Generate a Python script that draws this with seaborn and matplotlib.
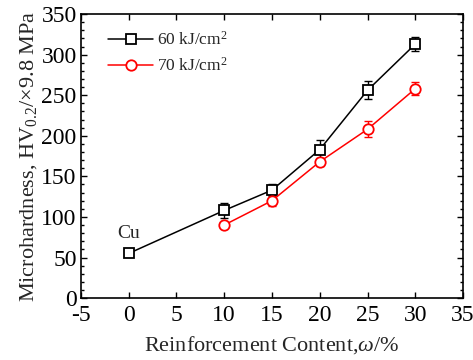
import matplotlib
matplotlib.use("Agg")
import matplotlib.pyplot as plt
import seaborn as sns
import numpy as np
import pandas as pd
from matplotlib.ticker import MultipleLocator

content_60 = [0, 10, 15, 20, 25, 30]
hv_60 = [55, 108, 133, 183, 256, 313]
err_60 = [3, 9, 7, 12, 11, 9]

content_70 = [10, 15, 20, 25, 30]
hv_70 = [90, 120, 168, 208, 258]
err_70 = [4, 7, 5, 10, 8]

labels = ["60 kJ/cm$^2$", "70 kJ/cm$^2$"]

sns.set_style("ticks")
plt.rcParams['font.family'] = ['Liberation Serif', 'DejaVu Serif']
plt.rcParams['mathtext.fontset'] = 'custom'
plt.rcParams['mathtext.rm'] = 'Liberation Serif'
plt.rcParams['mathtext.it'] = 'Liberation Serif:italic'
plt.rcParams['axes.unicode_minus'] = False

fig = plt.figure(figsize=(4.73, 3.6), dpi=100)
ax = fig.add_axes([0.171, 0.172, 0.808, 0.789])

df60 = pd.DataFrame({"x": content_60, "y": hv_60})
df70 = pd.DataFrame({"x": content_70, "y": hv_70})

sns.lineplot(data=df60, x="x", y="y", ax=ax, color="black", marker="s",
             markersize=6.5, markerfacecolor="white", markeredgecolor="black",
             markeredgewidth=1.3, linewidth=1.1, label=labels[0], zorder=3)
sns.lineplot(data=df70, x="x", y="y", ax=ax, color="red", marker="o",
             markersize=7.5, markerfacecolor="white", markeredgecolor="red",
             markeredgewidth=1.3, linewidth=1.1, label=labels[1], zorder=3)
ax.errorbar(content_60, hv_60, yerr=err_60, fmt="none", ecolor="black",
            elinewidth=1.0, capsize=3, capthick=1.0, zorder=2)
ax.errorbar(content_70, hv_70, yerr=err_70, fmt="none", ecolor="red",
            elinewidth=1.0, capsize=3, capthick=1.0, zorder=2)

ax.text(0, 69, "Cu", ha="center", va="bottom", fontsize=14)

ax.set_xlim(-5, 35)
ax.set_ylim(0, 350)
ax.xaxis.set_major_locator(MultipleLocator(5))
ax.yaxis.set_major_locator(MultipleLocator(50))
ax.yaxis.set_minor_locator(MultipleLocator(10))
ax.tick_params(axis="both", which="both", direction="in", top=True, right=True,
               labelsize=17, width=1.0, colors="black")
ax.tick_params(which="major", length=4)
ax.tick_params(axis="x", which="major", pad=5)
ax.tick_params(axis="y", which="major", pad=3)
ax.tick_params(which="minor", length=2.5)
for s in ax.spines.values():
    s.set_linewidth(1.2)
    s.set_color("black")

ax.set_xlabel("Reinforcement Content,$\\mathit{\\omega}$/%", fontsize=16, labelpad=6)
ax.set_ylabel("Microhardness, HV$_{0.2}$/\u00d79.8 MPa", fontsize=16, labelpad=2)

leg = ax.legend(loc="upper left", bbox_to_anchor=(0.03, 0.995), frameon=False,
                fontsize=12.5, handlelength=2.6, handletextpad=0.2, labelspacing=0.45)

fig.savefig("out.png", dpi=100)
